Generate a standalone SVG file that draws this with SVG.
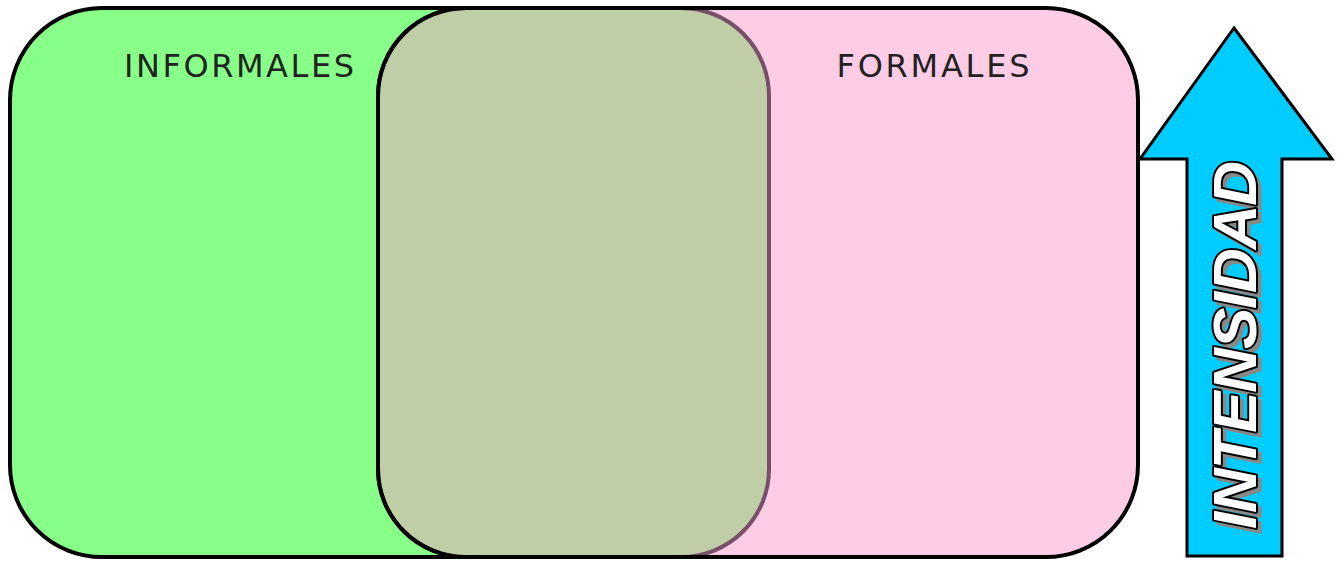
<svg xmlns="http://www.w3.org/2000/svg" width="1337" height="561" viewBox="0 0 1337 561">
<style>
.lbl{font-family:"DejaVu Sans","Liberation Sans",sans-serif;font-size:32px;fill:#222;text-anchor:middle}
.arrowtxt{font-family:"Liberation Sans",Arial,sans-serif;font-size:62px;font-weight:bold;font-style:italic;text-anchor:middle}
</style>
<rect width="1337" height="561" fill="#ffffff"/>
<g id="informales">
<rect x="10" y="8" width="760" height="549" rx="92" ry="92" fill="#88FF88" stroke="#000" stroke-width="4"/>
</g>
<g id="formales">
<rect x="378" y="8" width="760" height="549" rx="92" ry="92" fill="#FFCCE6" stroke="#000" stroke-width="4"/>
</g>
<g id="overlap">
<rect x="378" y="8" width="391" height="549" rx="88" ry="88" fill="#BFCEA7" stroke="#774F69" stroke-width="4"/>
<path d="M466,8 A88,88 0 0 0 378,96 L378,469 A88,88 0 0 0 466,557" fill="none" stroke="#000" stroke-width="4"/>
<line x1="378" y1="8" x2="770" y2="8" stroke="#000" stroke-width="4"/>
<line x1="378" y1="557" x2="770" y2="557" stroke="#000" stroke-width="4"/>
</g>
<g id="labels">
<text class="lbl" x="239" y="77" textLength="230" lengthAdjust="spacing">INFORMALES</text>
<text class="lbl" x="933" y="77" textLength="193" lengthAdjust="spacing">FORMALES</text>
</g>
<g id="arrow">
<polygon points="1234,28 1332,159 1282,159 1282,556 1187,556 1187,159 1140,159" fill="#00CCFF" stroke="#000" stroke-width="3" stroke-linejoin="miter"/>
<text class="arrowtxt" transform="translate(1260,349) rotate(-90)" x="0" y="0" fill="#888" stroke="#888" stroke-width="3" textLength="368">INTENSIDAD</text>
<text class="arrowtxt" transform="translate(1256,345) rotate(-90)" x="0" y="0" fill="#fff" stroke="#000" stroke-width="4" paint-order="stroke" stroke-linejoin="round" textLength="368">INTENSIDAD</text>
</g>
</svg>
